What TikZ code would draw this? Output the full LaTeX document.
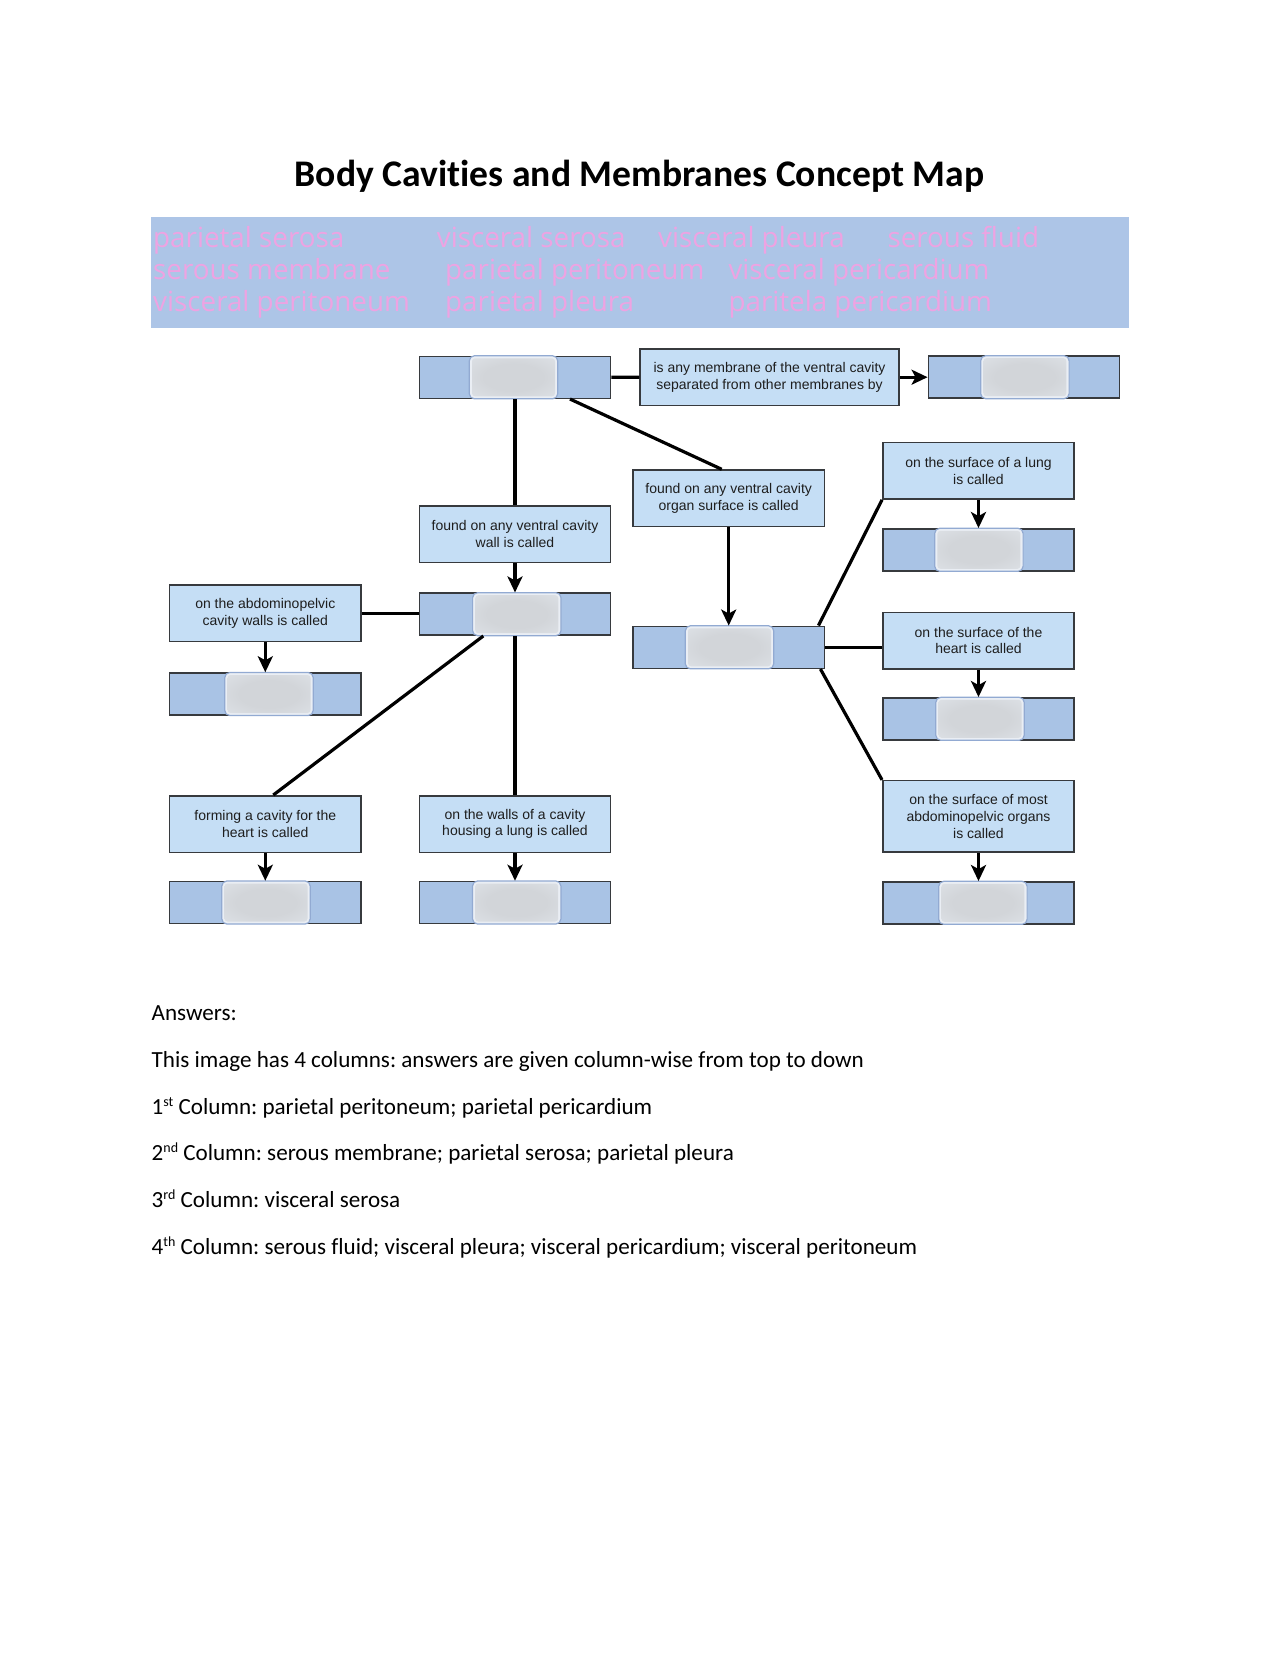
\documentclass[tikz,border=0pt]{standalone}
\usepackage{fontspec}
\setmainfont{Carlito}[Ligatures=NoCommon]
\newfontfamily\arialf{Liberation Sans}
\newfontfamily\bandf{Open Sans}[Ligatures=NoCommon]
\usetikzlibrary{arrows.meta,calc}
\definecolor{ansblue}{RGB}{169,195,229}
\definecolor{txtblue}{RGB}{197,222,245}
\definecolor{boxborder}{RGB}{55,58,62}
\definecolor{bandblue}{RGB}{173,197,231}
\definecolor{bandpink}{RGB}{238,163,226}
\definecolor{innergray}{RGB}{210,213,217}
\definecolor{innermid}{RGB}{221,225,230}
\definecolor{innerlight}{RGB}{234,238,244}
\definecolor{innerborder}{RGB}{146,170,210}
\definecolor{txtdark}{RGB}{30,30,30}
\pgfdeclareradialshading{innershade}{\pgfpoint{0bp}{0bp}}{color(0bp)=(innergray); color(18bp)=(innergray); color(38bp)=(innermid); color(50bp)=(innerlight)}
\newcommand\supr[1]{\raisebox{8pt}{\fontsize{14}{14}\selectfont #1}}
\newcommand\ansbox[4]{%
  \node[ans] (#1) at (#2,#3) {};
  \filldraw[innerbox] ([xshift={#4pt-44.2pt},yshift=-21.5pt]#1.center) rectangle ([xshift={#4pt+44.2pt},yshift=21.5pt]#1.center);
  \shade[shading=innershade, rounded corners=3pt] ([xshift={#4pt-41.5pt},yshift=-19pt]#1.center) rectangle ([xshift={#4pt+41.5pt},yshift=19pt]#1.center);
}
\tikzset{
  ans/.style={rectangle, draw=boxborder, fill=ansblue, line width=1.5pt, minimum width=191.4pt, minimum height=42pt, inner sep=0pt},
  txt/.style={rectangle, draw=boxborder, fill=txtblue, line width=1.5pt, minimum width=191.4pt, minimum height=56.5pt, inner sep=0pt, align=center, text=txtdark, font=\arialf\fontsize{14}{16.7}\selectfont},
  innerbox/.style={rounded corners=5pt, draw=innerborder, line width=1.2pt, fill=innerlight},
  conn/.style={line width=3.2pt, black},
  arr/.style={conn, -{Stealth[length=16pt,width=15pt,inset=4pt]}},
  bandtxt/.style={anchor=base west, inner sep=0pt, text=bandpink, font=\bandf\fontsize{27.8}{28}\selectfont},
  anstxt/.style={anchor=base west, inner sep=0pt, font=\fontsize{23.1}{28}\selectfont},
}
\begin{document}
\frenchspacing
\begin{tikzpicture}[x=1pt,y=-1pt]
\useasboundingbox (0,0) rectangle (1280,1656);
\fill[white] (0,0) rectangle (1280,1656);

% title
\node[anchor=base, inner sep=0pt, font=\bfseries\fontsize{37.6}{44}\selectfont] (title) at (639.5,186.7) {Body Cavities and Membranes Concept Map};

% word bank band
\fill[bandblue] (150.7,216.7) rectangle (1129,327.7);
\node[bandtxt] (w1) at (153,247.3) {parietal serosa};
\node[bandtxt] (w2) at (436.7,247.3) {visceral serosa};
\node[bandtxt] (w3) at (658,247.3) {visceral pleura};
\node[bandtxt] (w4) at (887.3,247.3) {serous fluid};
\node[bandtxt] (w5) at (153,279.5) {serous membrane};
\node[bandtxt] (w6) at (445,279.5) {parietal peritoneum};
\node[bandtxt] (w7) at (728.3,279.5) {visceral pericardium};
\node[bandtxt] (w8) at (153,311) {visceral peritoneum};
\node[bandtxt] (w9) at (445,311) {parietal pleura};
\node[bandtxt] (w10) at (728.3,311) {paritela pericardium};

% concept map boxes
\ansbox{A1}{515}{377.3}{-1.5}
\node[txt, minimum width=259pt] (topText) at (769.5,377.2) {is any membrane of the ventral cavity\\separated from other membranes by};
\ansbox{TR}{1024}{377.2}{0.9}

\node[txt] (wallText) at (515,534.2) {found on any ventral cavity\\wall is called};
\ansbox{A2}{515}{614.2}{1.8}

\node[txt] (organText) at (728.7,498.3) {found on any ventral cavity\\organ surface is called};
\ansbox{A3}{728.7}{647.3}{0.8}

\node[txt] (abdText) at (265.3,613.2) {on the abdominopelvic\\cavity walls is called};
\ansbox{abdAns}{265.3}{694}{3.7}

\node[txt] (heartWText) at (265.3,824) {forming a cavity for the\\heart is called};
\ansbox{heartWAns}{265.3}{902.5}{0.7}

\node[txt] (lungWText) at (515,824) {on the walls of a cavity\\housing a lung is called};
\ansbox{lungWAns}{515}{902.5}{1.7}

\node[txt] (lungText) at (978.5,470.8) {on the surface of a lung\\is called};
\ansbox{lungAns}{978.5}{549.8}{0.4}

\node[txt] (heartText) at (978.5,640.5) {on the surface of the\\heart is called};
\ansbox{heartAns}{978.5}{718.8}{1.5}

\node[txt, minimum height=71.3pt] (abdOrgText) at (978.5,816.3) {on the surface of most\\abdominopelvic organs\\is called};
\ansbox{abdOrgAns}{978.5}{902.8}{4.4}

% connectors
\draw[conn] (A1.east) -- (topText.west);
\draw[arr] (topText.east) -- (TR.west);
\draw[conn] (A1.south) -- (wallText.north);
\draw[arr] (wallText.south) -- (A2.north);
\draw[conn] ([xshift=55pt]A1.south) -- ([xshift=-7pt]organText.north);
\draw[arr] (organText.south) -- (A3.north);
\draw[conn] (abdText.east) -- (abdText.east -| A2.west);
\draw[arr] (abdText.south) -- (abdAns.north);
\draw[conn] ([xshift=-31.7pt]A2.south) -- ([xshift=8pt]heartWText.north);
\draw[conn] (A2.south) -- (lungWText.north);
\draw[arr] (heartWText.south) -- (heartWAns.north);
\draw[arr] (lungWText.south) -- (lungWAns.north);
\draw[conn] ([xshift=-6.7pt]A3.north east) -- (lungText.south west);
\draw[conn] (A3.east) -- (A3.east -| heartText.west);
\draw[conn] ([xshift=-4.7pt]A3.south east) -- (abdOrgText.north west);
\draw[arr] (lungText.south) -- (lungAns.north);
\draw[arr] (heartText.south) -- (heartAns.north);
\draw[arr] (abdOrgText.south) -- (abdOrgAns.north);

% answers
\node[anstxt] (ans0) at (151.5,1020.5) {Answers:};
\node[anstxt] (ans1) at (151.5,1067.3) {This image has 4 columns: answers are given column-wise from top to down};
\node[anstxt] (ans2) at (151.5,1114.3) {1\supr{st} Column: parietal peritoneum; parietal pericardium};
\node[anstxt] (ans3) at (151.5,1160.7) {2\supr{nd} Column: serous membrane; parietal serosa; parietal pleura};
\node[anstxt] (ans4) at (151.5,1207.3) {3\supr{rd} Column: visceral serosa};
\node[anstxt] (ans5) at (151.5,1254) {4\supr{th} Column: serous fluid; visceral pleura; visceral pericardium; visceral peritoneum};
\end{tikzpicture}
\end{document}
